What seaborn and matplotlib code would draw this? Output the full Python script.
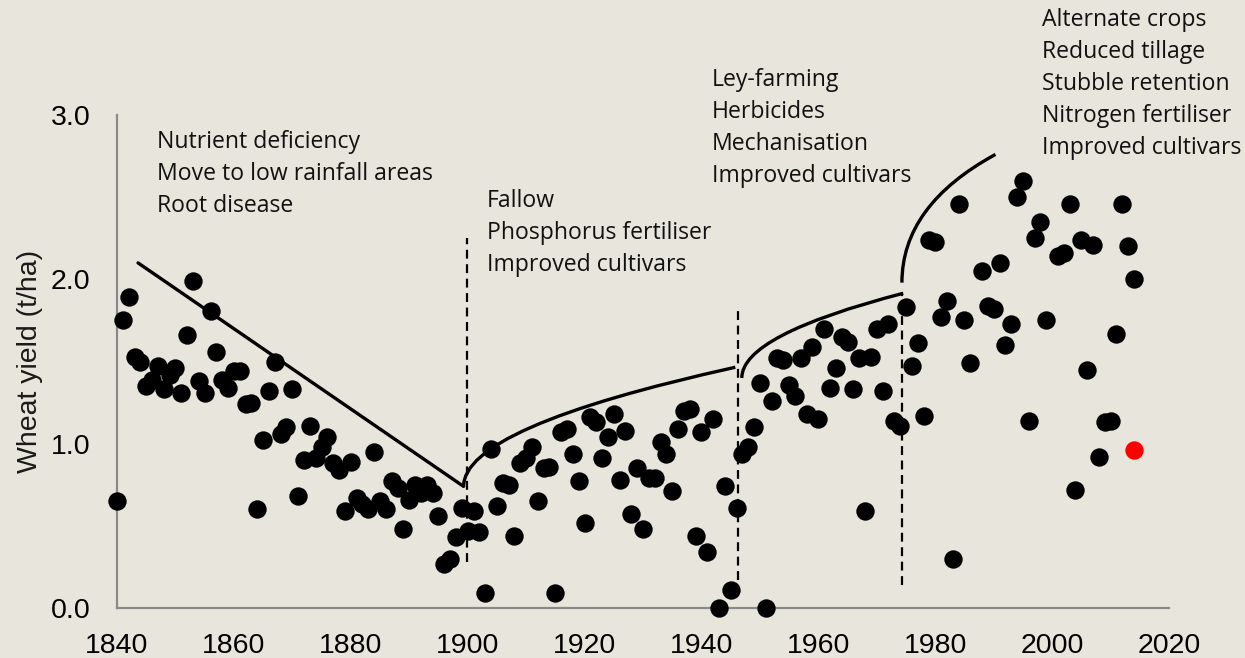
import numpy as np
import pandas as pd
import matplotlib
matplotlib.use("Agg")
import matplotlib.pyplot as plt
from matplotlib.path import Path
from matplotlib.patches import PathPatch
import seaborn as sns

# ---------------- data ----------------
years = [1840, 1841, 1842, 1843, 1844, 1845, 1846, 1847, 1848, 1849,
         1850, 1851, 1852, 1853, 1854, 1855, 1856, 1857, 1858, 1859,
         1860, 1861, 1862, 1863, 1864, 1865, 1866, 1867, 1868, 1869,
         1870, 1871, 1872, 1873, 1874, 1875, 1876, 1877, 1878, 1879,
         1880, 1881, 1882, 1883, 1884, 1885, 1886, 1887, 1888, 1889,
         1890, 1891, 1892, 1893, 1894, 1895, 1896, 1897, 1898, 1899,
         1900, 1901, 1902, 1903, 1904, 1905, 1906, 1907, 1908, 1909,
         1910, 1911, 1912, 1913, 1914, 1915, 1916, 1917, 1918, 1919,
         1920, 1921, 1922, 1923, 1924, 1925, 1926, 1927, 1928, 1929,
         1930, 1931, 1932, 1933, 1934, 1935, 1936, 1937, 1938, 1939,
         1940, 1941, 1942, 1943, 1944, 1945, 1946, 1947, 1948, 1949,
         1950, 1951, 1952, 1953, 1954, 1955, 1956, 1957, 1958, 1959,
         1960, 1961, 1962, 1963, 1964, 1965, 1966, 1967, 1968, 1969,
         1970, 1971, 1972, 1973, 1974, 1975, 1976, 1977, 1978, 1979,
         1980, 1981, 1982, 1983, 1984, 1985, 1986, 1988, 1989,
         1990, 1991, 1992, 1993, 1994, 1995, 1996, 1997, 1998, 1999,
         2001, 2002, 2003, 2004, 2005, 2006, 2007, 2008, 2009,
         2010, 2011, 2012, 2013, 2014]
yields = [0.65, 1.75, 1.89, 1.53, 1.50, 1.35, 1.39, 1.47, 1.33, 1.42,
          1.46, 1.31, 1.66, 1.99, 1.38, 1.31, 1.81, 1.56, 1.39, 1.34,
          1.44, 1.44, 1.24, 1.25, 0.60, 1.02, 1.32, 1.50, 1.06, 1.10,
          1.33, 0.68, 0.90, 1.11, 0.91, 0.98, 1.04, 0.88, 0.84, 0.59,
          0.89, 0.67, 0.63, 0.60, 0.95, 0.65, 0.60, 0.77, 0.73, 0.48,
          0.66, 0.75, 0.70, 0.75, 0.70, 0.56, 0.27, 0.30, 0.43, 0.61,
          0.47, 0.59, 0.46, 0.09, 0.97, 0.62, 0.76, 0.75, 0.44, 0.88,
          0.91, 0.98, 0.65, 0.85, 0.86, 0.09, 1.07, 1.09, 0.94, 0.77,
          0.52, 1.16, 1.13, 0.91, 1.04, 1.18, 0.78, 1.08, 0.57, 0.85,
          0.48, 0.79, 0.79, 1.01, 0.94, 0.71, 1.09, 1.20, 1.21, 0.44,
          1.07, 0.34, 1.15, 0.00, 0.74, 0.11, 0.61, 0.94, 0.98, 1.10,
          1.37, 0.00, 1.26, 1.52, 1.51, 1.36, 1.29, 1.52, 1.18, 1.59,
          1.15, 1.70, 1.34, 1.46, 1.65, 1.62, 1.33, 1.52, 0.59, 1.53,
          1.70, 1.32, 1.73, 1.14, 1.11, 1.83, 1.47, 1.61, 1.17, 2.24,
          2.23, 1.77, 1.87, 0.30, 2.46, 1.75, 1.49, 2.05, 1.84,
          1.82, 2.10, 1.60, 1.73, 2.50, 2.60, 1.14, 2.25, 2.35, 1.75,
          2.14, 2.16, 2.46, 0.72, 2.24, 1.45, 2.21, 0.92, 1.13,
          1.14, 1.67, 2.46, 2.20, 2.00]
highlight_year = [2014]
highlight_yield = [0.96]

# annotation trend lines (endpoints / control points)
decline_x = [1843.6, 1899.3]
decline_y = [2.10, 0.74]
curve1_pts = [(1899.3, 0.74), (1899.3, 1.10), (1945.8, 1.465)]
curve2_pts = [(1946.9, 1.40), (1946.9, 1.66), (1974.5, 1.915)]
curve3_pts = [(1974.3, 1.98), (1974.3, 2.45), (1990.3, 2.76)]
era_x = [1899.9, 1946.2, 1974.3]
era_ymin = [0.28, 0.17, 0.14]
era_ymax = [2.25, 1.82, 1.92]

notes = [
    ["Nutrient deficiency", "Move to low rainfall areas", "Root disease"],
    ["Fallow", "Phosphorus fertiliser", "Improved cultivars"],
    ["Ley-farming", "Herbicides", "Mechanisation", "Improved cultivars"],
    ["Alternate crops", "Reduced tillage", "Stubble retention",
     "Nitrogen fertiliser", "Improved cultivars"],
]
note_x = [1846.9, 1903.3, 1941.8, 1998.2]
note_top = [2.80, 2.44, 3.175, 3.54]
note_step = 0.1946

x_ticks = [1840, 1860, 1880, 1900, 1920, 1940, 1960, 1980, 2000, 2020]
y_ticks = [0.0, 1.0, 2.0, 3.0]
y_minor = [0.5, 1.5, 2.5]
y_label = "Wheat yield (t/ha)"

# ---------------- styling ----------------
BG = "#e8e6dc"
sns.set_style("white", {"axes.facecolor": BG, "figure.facecolor": BG})
plt.rcParams["font.family"] = ["Liberation Sans", "DejaVu Sans"]

fig = plt.figure(figsize=(12.45, 6.58), dpi=100)
ax = fig.add_axes([117 / 1245, 1 - 608 / 658, 1052 / 1245, 493 / 658])
ax.set_facecolor(BG)

df = pd.DataFrame({"year": years, "yield": yields})
hl = pd.DataFrame({"year": highlight_year, "yield": highlight_yield})

sns.scatterplot(data=df, x="year", y="yield", ax=ax, color="black",
                s=175, linewidth=0, clip_on=False, zorder=3, legend=False)
sns.scatterplot(data=hl, x="year", y="yield", ax=ax, color="#ff0000",
                s=175, linewidth=0, clip_on=False, zorder=3, legend=False)

# trend lines
sns.lineplot(x=decline_x, y=decline_y, ax=ax, color="black", lw=2.4,
             zorder=2, legend=False)
for pts in (curve1_pts, curve2_pts, curve3_pts):
    path = Path(pts, [Path.MOVETO, Path.CURVE3, Path.CURVE3])
    ax.add_patch(PathPatch(path, facecolor="none", edgecolor="black",
                           lw=2.4, zorder=2, clip_on=False))
for xv, y0, y1 in zip(era_x, era_ymin, era_ymax):
    ax.plot([xv, xv], [y0, y1], color="black", lw=1.6,
            dashes=(4, 2.5), zorder=2)

# notes
for lines, xv, yt in zip(notes, note_x, note_top):
    for i, line in enumerate(lines):
        ax.text(xv, yt - i * note_step, line, fontsize=16.6,
                family=["Open Sans", "DejaVu Sans"], color="#111111",
                ha="left", va="baseline", clip_on=False)

# axes
ax.set_xlim(1840, 2020)
ax.set_ylim(0, 3.0)
ax.set_xticks(x_ticks)
ax.set_xticklabels([str(t) for t in x_ticks])
ax.set_yticks(y_ticks)
ax.set_yticklabels([f"{t:.1f}" for t in y_ticks])
ax.set_yticks(y_minor, minor=True)
ax.tick_params(axis="both", which="both", direction="in", length=6.5,
               width=1.0, color="#8a8a8a", labelsize=20.5, labelcolor="black")
ax.tick_params(axis="y", which="both", pad=19)
ax.tick_params(axis="x", which="both", pad=18)
for side in ("top", "right"):
    ax.spines[side].set_visible(False)
for side in ("left", "bottom"):
    ax.spines[side].set_color("#8a8a8a")
    ax.spines[side].set_linewidth(1.6)
ax.set_xlabel("")
ax.set_ylabel(y_label, fontsize=20.5, color="#1a1a1a")
ax.yaxis.set_label_coords(-0.0703, 0.5)

fig.savefig("out.png", dpi=100, facecolor=BG)
